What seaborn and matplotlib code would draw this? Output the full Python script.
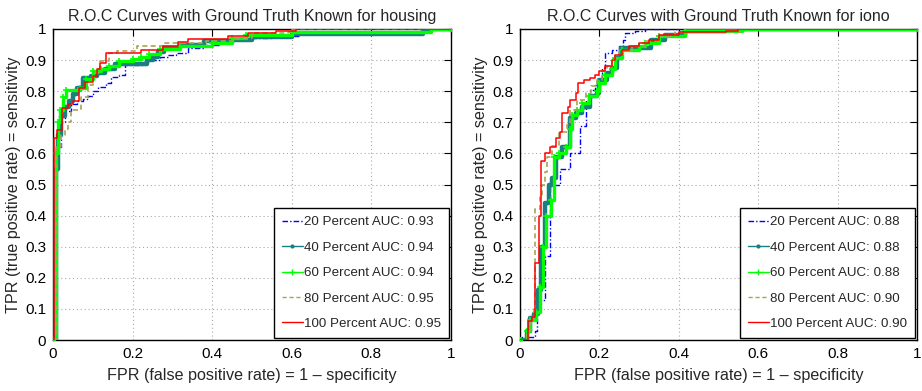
import numpy as np
import pandas as pd
import matplotlib
matplotlib.use("Agg")
import matplotlib.pyplot as plt
from matplotlib.lines import Line2D
import seaborn as sns

# ---------------- data (staircase corners: fpr where tpr rises, new tpr) ----------------
titles = ["R.O.C Curves with Ground Truth Known for housing",
          "R.O.C Curves with Ground Truth Known for iono"]
series_names = ["20 Percent", "40 Percent", "60 Percent", "80 Percent", "100 Percent"]
auc_housing = [0.93, 0.94, 0.94, 0.95, 0.95]
auc_iono = [0.88, 0.88, 0.88, 0.90, 0.90]

# housing
h20_fpr = [0, 0.008, 0.02, 0.03, 0.045, 0.06, 0.075, 0.088, 0.1, 0.113, 0.134, 0.146, 0.167, 0.18, 0.23, 0.27, 0.29, 0.31, 0.34, 0.38, 0.42, 0.45, 0.55, 0.62, 0.95, 1.0]
h20_tpr = [0, 0.62, 0.70, 0.735, 0.76, 0.77, 0.775, 0.784, 0.80, 0.815, 0.827, 0.847, 0.853, 0.884, 0.90, 0.91, 0.915, 0.923, 0.94, 0.95, 0.96, 0.97, 0.976, 0.99, 1.0, 1.0]
h40_fpr = [0, 0.008, 0.013, 0.02, 0.03, 0.04, 0.05, 0.06, 0.075, 0.095, 0.11, 0.13, 0.155, 0.235, 0.25, 0.265, 0.28, 0.32, 0.38, 0.45, 0.5, 0.6, 0.93, 1.0]
h40_tpr = [0, 0.55, 0.66, 0.72, 0.75, 0.77, 0.79, 0.81, 0.841, 0.85, 0.86, 0.87, 0.889, 0.90, 0.911, 0.927, 0.94, 0.95, 0.96, 0.965, 0.975, 0.983, 1.0, 1.0]
h60_fpr = [0, 0.008, 0.012, 0.018, 0.025, 0.033, 0.067, 0.084, 0.1, 0.12, 0.14, 0.167, 0.2, 0.22, 0.24, 0.27, 0.32, 0.4, 0.45, 0.485, 0.6, 0.95, 1.0]
h60_tpr = [0, 0.60, 0.70, 0.74, 0.78, 0.805, 0.81, 0.84, 0.864, 0.87, 0.88, 0.896, 0.905, 0.91, 0.92, 0.936, 0.944, 0.955, 0.97, 0.98, 0.99, 1.0, 1.0]
h80_fpr = [0, 0.008, 0.02, 0.03, 0.038, 0.046, 0.07, 0.088, 0.1, 0.117, 0.14, 0.16, 0.21, 0.28, 0.385, 0.45, 0.5, 0.59, 0.6, 1.0]
h80_tpr = [0, 0.62, 0.66, 0.68, 0.70, 0.74, 0.78, 0.82, 0.86, 0.896, 0.923, 0.93, 0.944, 0.955, 0.96, 0.97, 0.987, 0.99, 1.0, 1.0]
h100_fpr = [0, 0.003, 0.01, 0.022, 0.037, 0.05, 0.065, 0.08, 0.1, 0.11, 0.117, 0.134, 0.22, 0.276, 0.314, 0.34, 0.44, 0.49, 0.56, 0.61, 1.0]
h100_tpr = [0, 0.65, 0.675, 0.745, 0.76, 0.77, 0.81, 0.83, 0.85, 0.87, 0.89, 0.922, 0.934, 0.944, 0.957, 0.968, 0.976, 0.987, 0.995, 1.0, 1.0]

# iono
i20_fpr = [0, 0.004, 0.037, 0.042, 0.0625, 0.075, 0.10, 0.125, 0.152, 0.165, 0.177, 0.19, 0.2, 0.207, 0.215, 0.232, 0.25, 0.26, 0.265, 0.29, 0.316, 1.0]
i20_tpr = [0, 0.01, 0.03, 0.13, 0.27, 0.50, 0.55, 0.60, 0.687, 0.773, 0.805, 0.82, 0.837, 0.875, 0.923, 0.934, 0.944, 0.966, 0.987, 0.993, 1.0, 1.0]
i40_fpr = [0, 0.017, 0.025, 0.035, 0.046, 0.054, 0.0625, 0.072, 0.081, 0.09, 0.106, 0.127, 0.14, 0.156, 0.177, 0.195, 0.2, 0.22, 0.232, 0.244, 0.254, 0.33, 0.366, 0.416, 0.52, 0.56, 1.0]
i40_tpr = [0, 0.03, 0.07, 0.085, 0.16, 0.30, 0.44, 0.50, 0.52, 0.59, 0.62, 0.714, 0.73, 0.75, 0.784, 0.795, 0.837, 0.86, 0.875, 0.907, 0.94, 0.966, 0.982, 0.993, 0.996, 1.0, 1.0]
i60_fpr = [0, 0.017, 0.025, 0.04, 0.05, 0.058, 0.065, 0.077, 0.085, 0.098, 0.115, 0.127, 0.131, 0.144, 0.156, 0.173, 0.194, 0.2, 0.215, 0.232, 0.24, 0.257, 0.3, 0.316, 0.35, 0.416, 0.56, 1.0]
i60_tpr = [0, 0.03, 0.065, 0.09, 0.17, 0.30, 0.40, 0.45, 0.59, 0.60, 0.62, 0.68, 0.725, 0.74, 0.762, 0.784, 0.80, 0.827, 0.853, 0.87, 0.907, 0.934, 0.944, 0.955, 0.976, 0.993, 1.0, 1.0]
i80_fpr = [0, 0.017, 0.025, 0.035, 0.0375, 0.05, 0.056, 0.063, 0.069, 0.081, 0.098, 0.119, 0.127, 0.144, 0.165, 0.18, 0.195, 0.207, 0.22, 0.232, 0.25, 0.282, 0.316, 0.35, 0.39, 0.56, 1.0]
i80_tpr = [0, 0.03, 0.07, 0.10, 0.42, 0.46, 0.50, 0.54, 0.59, 0.623, 0.67, 0.69, 0.74, 0.773, 0.795, 0.816, 0.837, 0.864, 0.88, 0.907, 0.934, 0.944, 0.96, 0.976, 0.99, 1.0, 1.0]
i100_fpr = [0, 0.021, 0.03, 0.039, 0.0475, 0.054, 0.063, 0.075, 0.09, 0.1, 0.106, 0.12, 0.127, 0.14, 0.145, 0.16, 0.177, 0.19, 0.2, 0.215, 0.232, 0.24, 0.257, 0.274, 0.3, 0.324, 0.35, 0.4, 0.52, 0.55, 1.0]
i100_tpr = [0, 0.06, 0.075, 0.247, 0.40, 0.575, 0.60, 0.62, 0.65, 0.67, 0.73, 0.75, 0.773, 0.795, 0.827, 0.837, 0.843, 0.853, 0.864, 0.88, 0.90, 0.918, 0.934, 0.944, 0.955, 0.966, 0.98, 0.99, 0.995, 1.0, 1.0]

housing = [(h20_fpr, h20_tpr), (h40_fpr, h40_tpr), (h60_fpr, h60_tpr), (h80_fpr, h80_tpr), (h100_fpr, h100_tpr)]
iono = [(i20_fpr, i20_tpr), (i40_fpr, i40_tpr), (i60_fpr, i60_tpr), (i80_fpr, i80_tpr), (i100_fpr, i100_tpr)]

x_ticks = [0, 0.2, 0.4, 0.6, 0.8, 1]
y_ticks = [0, 0.1, 0.2, 0.3, 0.4, 0.5, 0.6, 0.7, 0.8, 0.9, 1]
x_tick_labels = ["0", "0.2", "0.4", "0.6", "0.8", "1"]
y_tick_labels = ["0", "0.1", "0.2", "0.3", "0.4", "0.5", "0.6", "0.7", "0.8", "0.9", "1"]

# ---------------- styles ----------------
styles = [
    dict(color="#0000ff", ls=(0, (4, 1.5, 1, 1.5)), lw=1.0, marker=None, ms=0, draw_lw=1.0),
    dict(color="#1a7f80", ls="-", lw=1.0, marker=".", ms=5, draw_lw=3.2),
    dict(color="#00ff00", ls="-", lw=1.0, marker="+", ms=5, draw_lw=2.4),
    dict(color="#a8a455", ls=(0, (3, 2)), lw=1.0, marker=None, ms=0, draw_lw=1.2),
    dict(color="#ff0000", ls="-", lw=1.0, marker=None, ms=0, draw_lw=1.1),
]

sns.set_style("white")
plt.rcParams["font.family"] = ["Liberation Sans", "DejaVu Sans"]

fig = plt.figure(figsize=(9.22, 3.91), dpi=100)
ax_pos = [[53 / 922, 51 / 391, 398 / 922, 311 / 391],
          [520 / 922, 51 / 391, 397 / 922, 311 / 391]]

for p, (data, aucs, title) in enumerate([(housing, auc_housing, titles[0]), (iono, auc_iono, titles[1])]):
    ax = fig.add_axes(ax_pos[p])
    for k, ((fx, ty), st) in enumerate(zip(data, styles)):
        df = pd.DataFrame({"fpr": fx, "tpr": ty})
        kw = dict(color=st["color"], linestyle=st["ls"], linewidth=st["draw_lw"],
                  drawstyle="steps-post", estimator=None, sort=False, ax=ax, legend=False,
                  zorder=3 + k)
        if st["marker"]:
            kw.update(marker=st["marker"], markersize=st["ms"],
                      markeredgecolor=st["color"], markerfacecolor=st["color"], markeredgewidth=1.2)
        sns.lineplot(data=df, x="fpr", y="tpr", **kw)
    ax.set_xlim(0, 1)
    ax.set_ylim(0, 1)
    ax.set_xticks(x_ticks)
    ax.set_xticklabels(x_tick_labels)
    ax.set_yticks(y_ticks)
    ax.set_yticklabels(y_tick_labels)
    ax.grid(True, linestyle=(0, (1, 2.5)), color="#aaaaaa", linewidth=0.8)
    ax.tick_params(direction="in", length=5, width=0.8, top=True, right=True,
                   labelsize=11, colors="black", pad=5)
    for sp in ax.spines.values():
        sp.set_visible(True)
        sp.set_color("black")
        sp.set_linewidth(1.0)
    ax.set_xlabel("FPR (false positive rate) = 1 \u2013 specificity", fontsize=11.6, labelpad=5)
    ax.set_ylabel("TPR (true positive rate) = sensitivity", fontsize=11.6, labelpad=3)
    ax.set_title(title, fontsize=11.5, pad=6)

    handles = []
    for st, name, a in zip(styles, series_names, aucs):
        handles.append(Line2D([0], [0], color=st["color"], linestyle=st["ls"], linewidth=st["lw"],
                              marker=st["marker"], markersize=st["ms"] * 0.8,
                              markeredgecolor=st["color"], markerfacecolor=st["color"],
                              label=f"{name} AUC: {a:.2f}"))
    leg = ax.legend(handles=handles, loc="lower right", fontsize=9.6, frameon=True,
                    fancybox=False, borderaxespad=0.15, labelspacing=0.98,
                    handlelength=1.55, handletextpad=0.1, borderpad=0.6)
    leg.get_frame().set_edgecolor("black")
    leg.get_frame().set_linewidth(1.0)
    leg.get_frame().set_alpha(1)
    leg.set_zorder(20)

fig.savefig("out.png", dpi=100)
